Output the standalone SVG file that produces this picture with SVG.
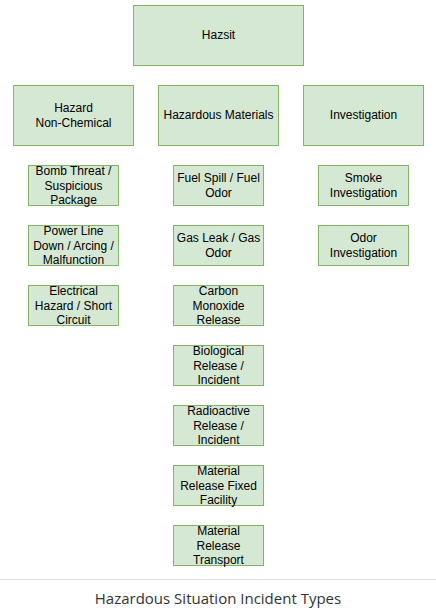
<svg xmlns="http://www.w3.org/2000/svg" width="436" height="616" viewBox="0 0 436 616">
<style>
.n rect{fill:#d5e8d4;stroke:#82b366;stroke-width:1}
.n text{font-family:"Liberation Sans",Arial,sans-serif;font-size:12px;fill:#000;text-anchor:middle}
.cap{font-family:"Open Sans","Noto Sans",sans-serif;font-size:15px;fill:#333;text-anchor:middle}
</style>
<rect x="0" y="0" width="436" height="616" fill="#fff"/>
<g id="connectors"/>
<g id="hazsit" class="n"><rect x="133.5" y="5.5" width="170" height="60"/><text x="218.5" y="39.3">Hazsit</text></g>
<g id="hazard-nonchem" class="n"><rect x="13.5" y="85.5" width="120" height="60"/><text x="73.5" y="112.3">Hazard</text><text x="73.5" y="126.7">Non-Chemical</text></g>
<g id="hazmat" class="n"><rect x="158.5" y="85.5" width="120" height="60"/><text x="218.5" y="119.3">Hazardous Materials</text></g>
<g id="investigation" class="n"><rect x="303.5" y="85.5" width="120" height="60"/><text x="363.5" y="119.3">Investigation</text></g>

<g id="bomb" class="n"><rect x="28.5" y="165.5" width="90" height="40"/><text x="73.5" y="175.2">Bomb Threat /</text><text x="73.5" y="189.6">Suspicious</text><text x="73.5" y="204">Package</text></g>
<g id="powerline" class="n"><rect x="28.5" y="225.5" width="90" height="40"/><text x="73.5" y="235.2">Power Line</text><text x="73.5" y="249.6">Down / Arcing /</text><text x="73.5" y="264">Malfunction</text></g>
<g id="electrical" class="n"><rect x="28.5" y="285.5" width="90" height="40"/><text x="73.5" y="295.2">Electrical</text><text x="73.5" y="309.6">Hazard / Short</text><text x="73.5" y="324">Circuit</text></g>

<g id="fuel" class="n"><rect x="173.5" y="165.5" width="90" height="40"/><text x="218.5" y="182.3">Fuel Spill / Fuel</text><text x="218.5" y="196.7">Odor</text></g>
<g id="gas" class="n"><rect x="173.5" y="225.5" width="90" height="40"/><text x="218.5" y="242.3">Gas Leak / Gas</text><text x="218.5" y="256.7">Odor</text></g>
<g id="co" class="n"><rect x="173.5" y="285.5" width="90" height="40"/><text x="218.5" y="295.2">Carbon</text><text x="218.5" y="309.6">Monoxide</text><text x="218.5" y="324">Release</text></g>
<g id="bio" class="n"><rect x="173.5" y="345.5" width="90" height="40"/><text x="218.5" y="355.2">Biological</text><text x="218.5" y="369.6">Release /</text><text x="218.5" y="384">Incident</text></g>
<g id="radio" class="n"><rect x="173.5" y="405.5" width="90" height="40"/><text x="218.5" y="415.2">Radioactive</text><text x="218.5" y="429.6">Release /</text><text x="218.5" y="444">Incident</text></g>
<g id="fixed" class="n"><rect x="173.5" y="465.5" width="90" height="40"/><text x="218.5" y="475.2">Material</text><text x="218.5" y="489.6">Release Fixed</text><text x="218.5" y="504">Facility</text></g>
<g id="transport" class="n"><rect x="173.5" y="525.5" width="90" height="40"/><text x="218.5" y="535.2">Material</text><text x="218.5" y="549.6">Release</text><text x="218.5" y="564">Transport</text></g>

<g id="smoke" class="n"><rect x="318.5" y="165.5" width="90" height="40"/><text x="363.5" y="182.3">Smoke</text><text x="363.5" y="196.7">Investigation</text></g>
<g id="odor" class="n"><rect x="318.5" y="225.5" width="90" height="40"/><text x="363.5" y="242.3">Odor</text><text x="363.5" y="256.7">Investigation</text></g>

<line x1="0" y1="579.5" x2="436" y2="579.5" stroke="#dde1e6" stroke-width="1"/>
<text class="cap" x="218" y="603.5">Hazardous Situation Incident Types</text>
</svg>
